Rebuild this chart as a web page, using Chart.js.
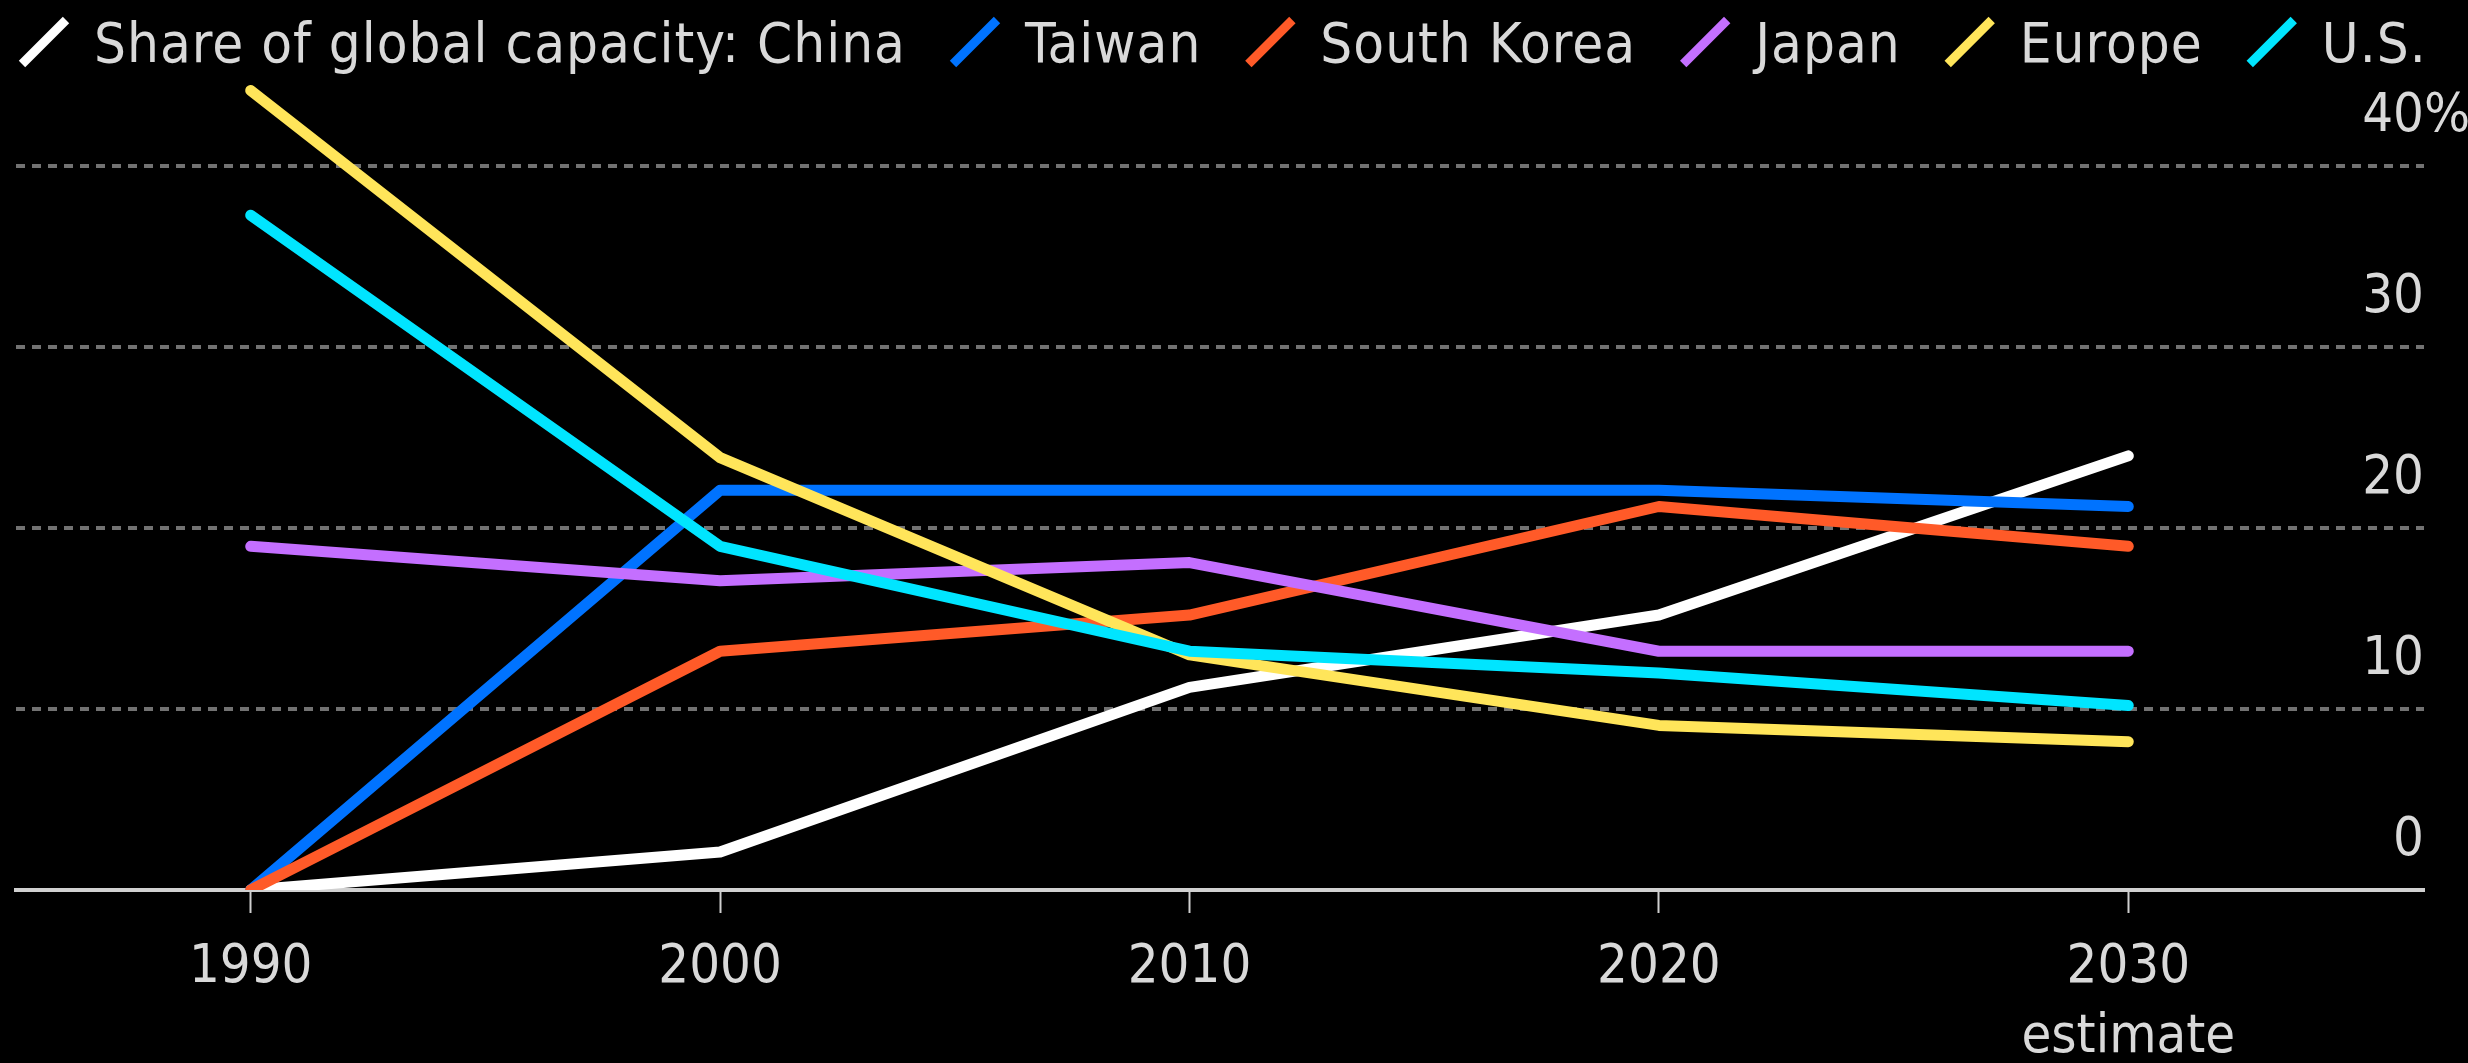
<!DOCTYPE html>
<html>
<head>
<meta charset="utf-8">
<script src="https://cdn.jsdelivr.net/npm/chart.js@4/dist/chart.umd.min.js"></script>
<style>
  html, body { margin: 0; padding: 0; background: #000; }
  #wrap { width: 2468px; height: 1063px; }
  canvas { display: block; }
</style>
</head>
<body>
<div id="wrap"><canvas id="chart" width="2468" height="1063"></canvas></div>
<script>
// Share of global semiconductor capacity, percent
const years = [1990, 2000, 2010, 2020, 2030];
const seriesNames = ['China', 'Taiwan', 'South Korea', 'Japan', 'Europe', 'U.S.'];
const legendPrefix = 'Share of global capacity: ';
const china      = [0, 2.1, 11.2, 15.2, 24.0];
const taiwan     = [0, 22.1, 22.1, 22.1, 21.2];
const southKorea = [0, 13.2, 15.2, 21.2, 19.0];
const japan      = [19.0, 17.1, 18.1, 13.2, 13.2];
const europe     = [44.2, 23.9, 13.0, 9.1, 8.2];
const us         = [37.3, 19.0, 13.2, 12.0, 10.2];
const yTicks = [0, 10, 20, 30, 40];
const estimateYear = 2030;

const seriesValues = [china, taiwan, southKorea, japan, europe, us];
const seriesColors = ['#ffffff', '#0073ff', '#ff5a28', '#c46fff', '#ffe55a', '#00e5ff'];

const FONT = "'DejaVu Sans Condensed', 'DejaVu Sans', sans-serif";
const TEXT = '#d9d9d9';
const FONT_SIZE = 54;
const LEGEND_SIZE = 56;

const datasets = seriesNames.map((name, i) => ({
  label: i === 0 ? legendPrefix + name : name,
  data: years.map((yr, j) => ({ x: yr, y: seriesValues[i][j] })),
  borderColor: seriesColors[i],
  backgroundColor: seriesColors[i],
  borderWidth: 11,
  borderCapStyle: 'round',
  borderJoinStyle: 'round',
  pointRadius: 0,
  pointHoverRadius: 0,
  tension: 0,
  fill: false,
  order: seriesNames.length - i
}));

// Legend with slanted line swatches across the top
const slashLegend = {
  id: 'slashLegend',
  afterDraw(chart) {
    const ctx = chart.ctx;
    ctx.save();
    ctx.font = LEGEND_SIZE + 'px ' + FONT;
    if ('letterSpacing' in ctx) ctx.letterSpacing = '1px';
    ctx.textBaseline = 'alphabetic';
    ctx.textAlign = 'left';
    let x = 18;
    chart.data.datasets.forEach(ds => {
      ctx.strokeStyle = ds.borderColor;
      ctx.lineWidth = 9;
      ctx.lineCap = 'butt';
      ctx.beginPath();
      ctx.moveTo(x + 4, 64);
      ctx.lineTo(x + 48, 20);
      ctx.stroke();
      ctx.fillStyle = TEXT;
      ctx.fillText(ds.label, x + 76, 62);
      x += 76 + ctx.measureText(ds.label).width + 43;
    });
    ctx.restore();
  }
};

// Value labels sitting above each gridline at the right edge
const rightLabels = {
  id: 'rightLabels',
  afterDraw(chart) {
    const ctx = chart.ctx;
    const scale = chart.scales.y;
    const right = chart.chartArea.right;
    ctx.save();
    ctx.font = FONT_SIZE + 'px ' + FONT;
    ctx.fillStyle = TEXT;
    ctx.textBaseline = 'alphabetic';
    yTicks.forEach(v => {
      const py = scale.getPixelForValue(v) - 35;
      ctx.textAlign = 'right';
      ctx.fillText(String(v), right, py);
      if (v === yTicks[yTicks.length - 1]) {
        ctx.textAlign = 'left';
        ctx.fillText('%', right, py);
      }
    });
    ctx.restore();
  }
};

const blackBg = {
  id: 'blackBg',
  beforeDraw(chart) {
    const ctx = chart.ctx;
    ctx.save();
    ctx.fillStyle = '#000';
    ctx.fillRect(0, 0, chart.width, chart.height);
    ctx.restore();
  }
};

new Chart(document.getElementById('chart'), {
  type: 'line',
  data: { datasets },
  options: {
    responsive: false,
    devicePixelRatio: 1,
    animation: false,
    events: [],
    layout: { padding: { left: 16, right: 44, top: 76, bottom: 0 } },
    plugins: { legend: { display: false }, tooltip: { enabled: false } },
    scales: {
      x: {
        type: 'linear',
        min: 1985,
        max: 2036.3,
        afterBuildTicks(scale) { scale.ticks = years.map(v => ({ value: v })); },
        afterFit(scale) { scale.height = 173; },
        grid: {
          display: true,
          drawOnChartArea: false,
          drawTicks: true,
          tickLength: 23,
          tickColor: '#cfcfcf',
          tickWidth: 2
        },
        border: { display: true, color: '#d0d0d0', width: 4 },
        ticks: {
          color: TEXT,
          font: { family: FONT, size: FONT_SIZE, lineHeight: 1.3 },
          padding: 20,
          maxRotation: 0,
          autoSkip: false,
          callback: v => v === estimateYear ? [String(v), 'estimate'] : String(v)
        }
      },
      y: {
        position: 'right',
        min: 0,
        max: 45,
        afterBuildTicks(scale) { scale.ticks = yTicks.map(v => ({ value: v })); },
        afterFit(scale) { scale.width = 0; },
        grid: {
          drawTicks: false,
          lineWidth: 4,
          color: c => (c.tick && c.tick.value === 0) ? 'rgba(0,0,0,0)' : '#727272'
        },
        border: { display: false, dash: [9, 7] },
        ticks: { display: false }
      }
    }
  },
  plugins: [blackBg, slashLegend, rightLabels]
});
</script>
</body>
</html>
